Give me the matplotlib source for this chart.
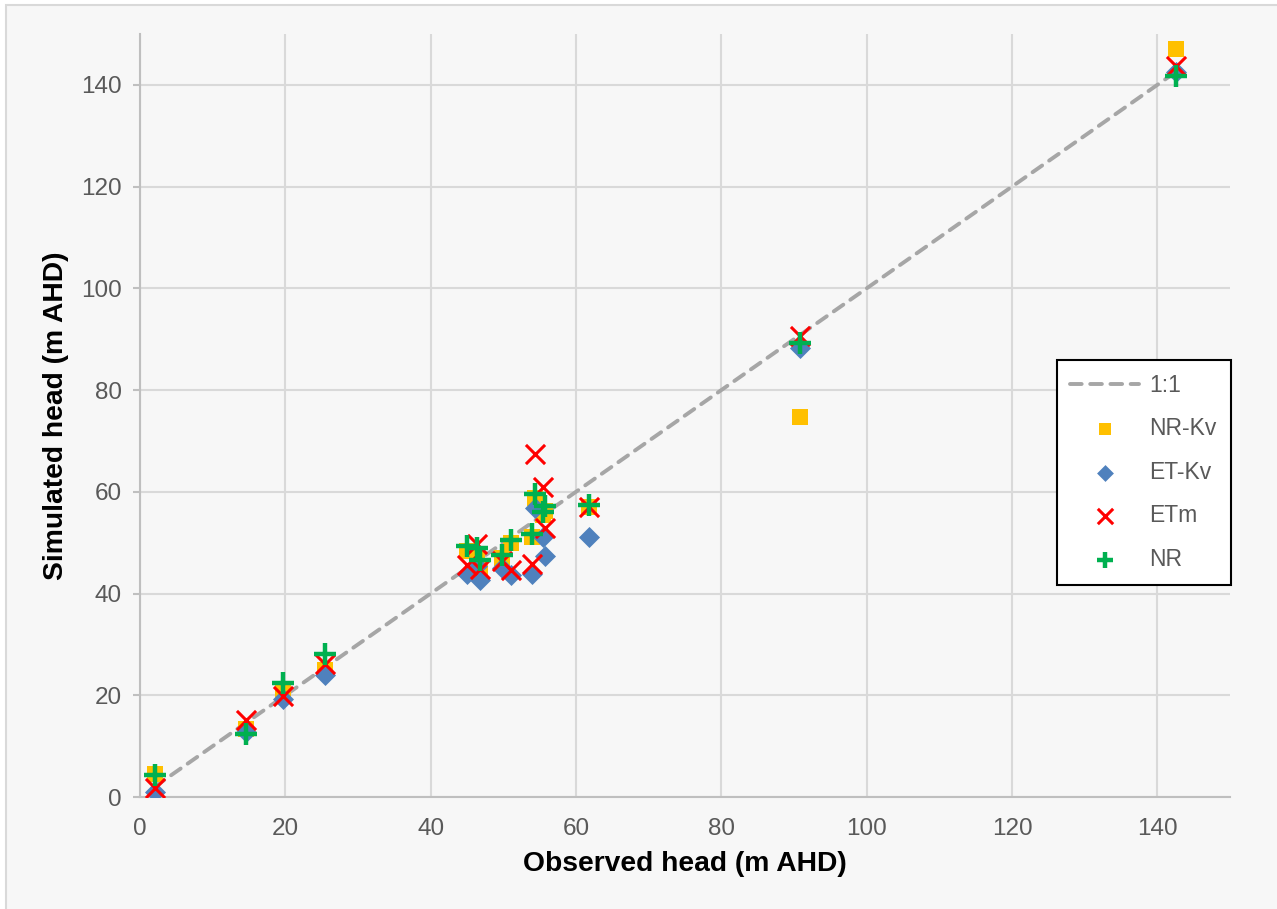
import numpy as np
import matplotlib
matplotlib.use("Agg")
import matplotlib.pyplot as plt
from matplotlib.patches import Rectangle

plt.rcParams['font.family'] = ['Liberation Sans', 'DejaVu Sans']

# observed heads (m AHD) at each bore
observed = [2.0, 14.6, 19.7, 25.4, 45.0, 46.4, 46.8, 49.8, 51.0,
            54.0, 54.4, 55.5, 55.8, 61.8, 90.8, 142.5]

# simulated heads for each model run
nr_kv = [4.5, 13.3, 21.0, 25.0, 48.4, 47.5, 45.0, 47.0, 50.0,
         51.2, 58.7, 55.5, 56.3, 57.0, 74.7, 147.1]
et_kv = [1.0, 12.8, 19.2, 24.0, 43.9, 45.5, 42.7, 45.0, 43.7,
         43.8, 56.8, 51.2, 47.4, 51.2, 88.2, 142.6]
etm = [1.8, 15.1, 19.8, 26.2, 45.7, 49.8, 44.8, 46.4, 44.7,
       45.8, 67.4, 61.0, 52.8, 57.0, 90.6, 143.8]
nr = [4.3, 12.4, 22.5, 28.2, 49.3, 48.9, 46.6, 47.6, 50.6,
      51.8, 59.6, 56.0, 57.3, 57.4, 89.2, 141.8]

one_to_one = [min(observed), max(observed)]

fig = plt.figure(figsize=(12.77, 9.09), dpi=100, facecolor='white')
bg = Rectangle((6 / 1277, -0.01), 1.02, 1 - 5 / 909 + 0.01,
               transform=fig.transFigure, facecolor='#f7f7f7',
               edgecolor='#d9d9d9', linewidth=1.5, zorder=-10)
fig.add_artist(bg)

ax = fig.add_axes([140 / 1277, 112 / 909, 1090 / 1277, 763 / 909])
ax.set_facecolor('#f7f7f7')

ax.plot(one_to_one, one_to_one, linestyle=(0, (3.0, 2.2)), color='#a6a6a6',
        linewidth=2.8, dash_capstyle='round', label='1:1', zorder=2)
ax.scatter(observed, nr_kv, marker='s', s=135, color='#ffc000',
           linewidths=0, label='NR-Kv', zorder=3)
ax.scatter(observed, et_kv, marker='D', s=115, color='#4f81bd',
           linewidths=0, label='ET-Kv', zorder=4)
ax.scatter(observed, etm, marker='x', s=190, color='#ff0000',
           linewidths=2.2, label='ETm', zorder=5)
ax.scatter(observed, nr, marker='+', s=230, color='#00b050',
           linewidths=3.2, label='NR', zorder=6)

ax.set_xlim(0, 150)
ax.set_ylim(0, 150)
ax.set_xticks(np.arange(0, 141, 20))
ax.set_yticks(np.arange(0, 141, 20))
ax.grid(True, color='#d9d9d9', linewidth=1.5, zorder=0)
ax.set_axisbelow(True)

for s in ['top', 'right']:
    ax.spines[s].set_visible(False)
for s in ['left', 'bottom']:
    ax.spines[s].set_color('#bfbfbf')
    ax.spines[s].set_linewidth(1.5)

ax.tick_params(axis='x', length=0, labelsize=17.5, labelcolor='#595959', pad=15)
ax.tick_params(axis='y', length=5, width=1.5, color='#bfbfbf', direction='out',
               labelsize=17.5, labelcolor='#595959', pad=8)

ax.set_xlabel('Observed head (m AHD)', fontsize=20.3, fontweight='bold', labelpad=8)
ax.set_ylabel('Simulated head (m AHD)', fontsize=20.3, fontweight='bold', labelpad=9)

leg = ax.legend(loc='upper left', bbox_to_anchor=(0.841, 0.573), frameon=True,
                fancybox=False, edgecolor='black', facecolor='white',
                framealpha=1, fontsize=16.5, labelcolor='#595959',
                handlelength=3.0, handletextpad=0.45, labelspacing=0.9,
                borderpad=0.6, borderaxespad=0, scatterpoints=1,
                markerscale=0.8)
leg.get_frame().set_linewidth(1.5)

fig.savefig('out.png', dpi=100, facecolor=fig.get_facecolor())
